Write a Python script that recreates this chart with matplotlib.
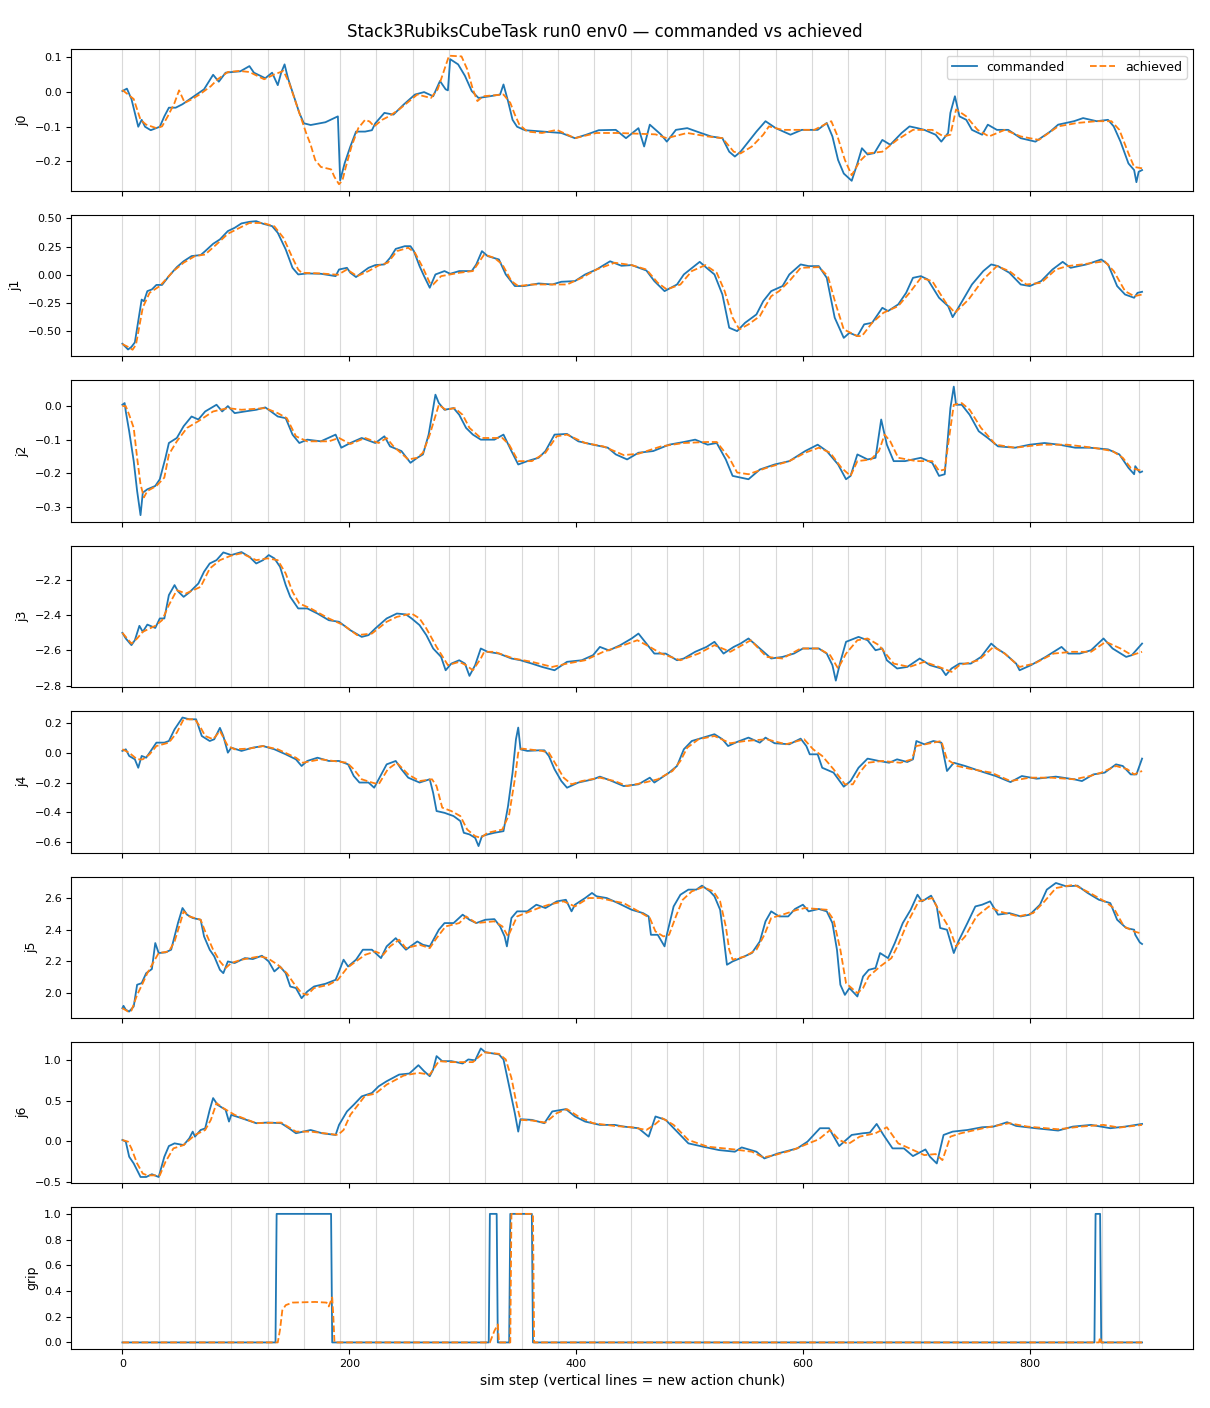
import numpy as np
import matplotlib
matplotlib.use("Agg")
import matplotlib.pyplot as plt

# 读取自图片的关节轨迹 (step, value) 采样点
j0_cmd_step = [0, 4, 8, 11, 14, 17, 20, 25, 33, 37, 41, 47, 53, 64, 72, 80, 85, 91, 97, 104, 112, 116, 126, 132, 137, 140, 143, 146, 151, 156, 160, 166, 179, 190, 192, 196, 201, 206, 214, 220, 223, 231, 239, 248, 258, 266, 274, 280, 285, 287, 289, 296, 302, 308, 314, 324, 333, 336, 340, 344, 348, 355, 371, 387, 399, 409, 420, 435, 444, 455, 460, 465, 475, 480, 488, 498, 510, 519, 529, 535, 540, 545, 552, 559, 567, 576, 589, 599, 613, 621, 626, 631, 636, 643, 648, 652, 657, 663, 670, 677, 687, 694, 701, 707, 717, 722, 728, 730, 734, 738, 744, 749, 758, 763, 771, 781, 792, 805, 818, 825, 839, 847, 859, 869, 874, 880, 887, 892, 894, 896, 899]
j0_cmd_val = [0.003, 0.01, -0.02, -0.06, -0.10, -0.08, -0.10, -0.11, -0.10, -0.07, -0.045, -0.045, -0.035, -0.01, 0.008, 0.05, 0.03, 0.056, 0.058, 0.06, 0.075, 0.056, 0.04, 0.056, 0.02, 0.056, 0.08, 0.04, -0.01, -0.06, -0.09, -0.095, -0.087, -0.07, -0.255, -0.205, -0.157, -0.114, -0.114, -0.11, -0.09, -0.06, -0.065, -0.036, -0.007, 0.0, -0.012, 0.032, 0.008, 0.005, 0.095, 0.08, 0.047, 0.003, -0.017, -0.012, -0.007, 0.022, -0.026, -0.08, -0.10, -0.11, -0.114, -0.118, -0.133, -0.123, -0.11, -0.109, -0.133, -0.104, -0.157, -0.094, -0.123, -0.143, -0.109, -0.104, -0.118, -0.128, -0.133, -0.172, -0.186, -0.172, -0.143, -0.114, -0.084, -0.104, -0.123, -0.109, -0.109, -0.089, -0.128, -0.196, -0.235, -0.256, -0.206, -0.162, -0.18, -0.176, -0.138, -0.152, -0.118, -0.099, -0.104, -0.109, -0.123, -0.143, -0.118, -0.06, -0.012, -0.07, -0.08, -0.109, -0.123, -0.094, -0.109, -0.109, -0.133, -0.143, -0.114, -0.094, -0.084, -0.075, -0.084, -0.08, -0.099, -0.143, -0.206, -0.225, -0.26, -0.23, -0.225]
j0_ach_step = [0, 10, 16, 21, 30, 35, 40, 46, 50, 55, 61, 68, 78, 84, 93, 103, 112, 125, 134, 142, 147, 153, 159, 162, 166, 170, 175, 184, 187, 191, 194, 197, 202, 208, 214, 218, 222, 229, 235, 244, 253, 260, 272, 278, 285, 288, 299, 304, 309, 313, 318, 336, 342, 346, 350, 357, 370, 383, 399, 418, 437, 470, 480, 498, 516, 529, 539, 545, 555, 565, 570, 582, 596, 610, 625, 630, 637, 643, 650, 657, 670, 683, 697, 714, 724, 730, 735, 744, 754, 764, 778, 792, 808, 825, 842, 859, 872, 879, 887, 892, 899]
j0_ach_val = [0.006, -0.02, -0.08, -0.094, -0.104, -0.099, -0.07, -0.031, 0.005, -0.031, -0.021, -0.007, 0.017, 0.037, 0.058, 0.061, 0.058, 0.037, 0.051, 0.061, 0.027, -0.031, -0.089, -0.118, -0.152, -0.196, -0.216, -0.223, -0.245, -0.266, -0.255, -0.216, -0.157, -0.104, -0.08, -0.085, -0.099, -0.08, -0.07, -0.05, -0.026, -0.007, -0.017, 0.008, 0.076, 0.105, 0.103, 0.066, 0.008, -0.026, -0.012, -0.007, -0.031, -0.065, -0.094, -0.114, -0.118, -0.109, -0.133, -0.118, -0.118, -0.122, -0.133, -0.118, -0.128, -0.133, -0.172, -0.177, -0.157, -0.123, -0.099, -0.109, -0.109, -0.109, -0.084, -0.123, -0.196, -0.24, -0.2, -0.177, -0.172, -0.138, -0.109, -0.109, -0.128, -0.123, -0.05, -0.07, -0.109, -0.128, -0.109, -0.128, -0.138, -0.099, -0.089, -0.084, -0.084, -0.109, -0.177, -0.216, -0.22]

j1_cmd_step = [0, 5, 8, 11, 14, 17, 19, 22, 26, 30, 35, 41, 48, 54, 61, 69, 73, 80, 86, 93, 99, 105, 112, 118, 124, 132, 137, 144, 150, 155, 163, 175, 188, 191, 198, 201, 206, 211, 217, 223, 231, 236, 241, 249, 254, 257, 262, 266, 271, 276, 284, 289, 297, 308, 312, 317, 322, 332, 338, 346, 354, 367, 379, 387, 399, 408, 418, 430, 440, 449, 462, 469, 478, 489, 495, 509, 515, 522, 529, 535, 542, 549, 559, 565, 572, 582, 588, 598, 605, 614, 621, 628, 636, 641, 648, 654, 661, 670, 675, 684, 691, 697, 704, 710, 720, 728, 732, 737, 749, 759, 766, 772, 782, 792, 800, 810, 820, 829, 836, 850, 863, 869, 877, 884, 892, 895, 899]
j1_cmd_val = [-0.612, -0.663, -0.64, -0.60, -0.41, -0.22, -0.235, -0.145, -0.13, -0.09, -0.09, -0.012, 0.068, 0.12, 0.166, 0.175, 0.21, 0.275, 0.314, 0.388, 0.417, 0.456, 0.47, 0.476, 0.453, 0.432, 0.373, 0.225, 0.062, 0.003, 0.012, 0.009, -0.012, 0.047, 0.062, 0.018, -0.02, 0.018, 0.062, 0.086, 0.092, 0.15, 0.23, 0.254, 0.254, 0.21, 0.077, -0.012, -0.115, 0.003, 0.033, 0.009, 0.033, 0.033, 0.092, 0.21, 0.166, 0.136, 0.003, -0.10, -0.10, -0.077, -0.086, -0.062, -0.056, 0.003, 0.047, 0.12, 0.08, 0.086, 0.038, -0.056, -0.145, -0.086, 0.003, 0.115, 0.062, 0.003, -0.175, -0.47, -0.50, -0.426, -0.352, -0.234, -0.145, -0.10, 0.003, 0.092, 0.077, 0.077, -0.027, -0.38, -0.56, -0.515, -0.544, -0.44, -0.426, -0.293, -0.322, -0.263, -0.16, -0.027, -0.012, -0.041, -0.204, -0.278, -0.376, -0.293, -0.086, 0.033, 0.092, 0.077, 0.018, -0.086, -0.10, -0.056, 0.047, 0.115, 0.062, 0.092, 0.136, 0.092, -0.10, -0.175, -0.204, -0.16, -0.151]
j1_ach_step = [0, 5, 9, 12, 18, 24, 33, 45, 54, 64, 73, 83, 93, 102, 112, 124, 134, 142, 150, 155, 158, 175, 190, 198, 207, 217, 226, 234, 242, 252, 258, 265, 271, 274, 281, 297, 309, 319, 328, 335, 343, 349, 361, 376, 392, 405, 418, 434, 449, 462, 472, 480, 492, 502, 514, 524, 531, 538, 544, 552, 562, 572, 579, 588, 598, 614, 622, 629, 636, 648, 652, 661, 671, 684, 694, 704, 714, 726, 734, 746, 759, 771, 782, 797, 810, 823, 833, 846, 866, 874, 884, 892, 899]
j1_ach_val = [-0.615, -0.64, -0.665, -0.62, -0.29, -0.16, -0.10, 0.033, 0.107, 0.166, 0.18, 0.27, 0.364, 0.41, 0.46, 0.46, 0.43, 0.328, 0.15, 0.047, 0.018, 0.012, 0.0, 0.047, -0.012, 0.033, 0.083, 0.107, 0.21, 0.24, 0.195, 0.062, -0.071, -0.086, -0.012, 0.018, 0.033, 0.18, 0.15, 0.092, -0.056, -0.10, -0.086, -0.086, -0.086, -0.027, 0.047, 0.107, 0.086, 0.047, -0.071, -0.13, -0.086, 0.033, 0.086, 0.018, -0.145, -0.38, -0.485, -0.44, -0.367, -0.19, -0.145, -0.056, 0.062, 0.068, -0.012, -0.263, -0.485, -0.544, -0.544, -0.426, -0.337, -0.278, -0.16, -0.027, -0.056, -0.248, -0.337, -0.22, -0.041, 0.077, 0.033, -0.086, -0.071, 0.047, 0.077, 0.092, 0.12, 0.033, -0.145, -0.19, -0.175]

j2_cmd_step = [0, 2, 3, 6, 10, 13, 16, 18, 22, 29, 33, 38, 41, 48, 54, 61, 67, 73, 83, 88, 93, 99, 108, 118, 126, 131, 137, 144, 150, 156, 163, 175, 188, 193, 201, 211, 223, 231, 236, 246, 254, 260, 265, 270, 273, 276, 279, 284, 292, 297, 303, 309, 316, 328, 336, 343, 349, 357, 367, 373, 381, 392, 402, 415, 428, 435, 445, 455, 468, 482, 495, 505, 516, 524, 532, 538, 552, 562, 575, 588, 602, 613, 621, 631, 638, 642, 648, 657, 664, 669, 674, 680, 690, 704, 714, 720, 725, 730, 733, 735, 740, 747, 755, 763, 772, 787, 800, 813, 826, 840, 853, 869, 879, 887, 892, 893, 897, 899]
j2_cmd_val = [0.004, 0.009, -0.016, -0.075, -0.164, -0.253, -0.325, -0.258, -0.248, -0.238, -0.218, -0.154, -0.11, -0.095, -0.06, -0.031, -0.04, -0.016, 0.004, -0.016, 0.0, -0.021, -0.016, -0.011, -0.004, -0.016, -0.031, -0.036, -0.085, -0.11, -0.10, -0.105, -0.085, -0.124, -0.11, -0.095, -0.11, -0.09, -0.12, -0.134, -0.169, -0.154, -0.144, -0.085, -0.026, 0.034, 0.009, -0.011, -0.006, -0.026, -0.065, -0.085, -0.10, -0.10, -0.085, -0.134, -0.174, -0.164, -0.154, -0.134, -0.085, -0.083, -0.105, -0.115, -0.124, -0.144, -0.159, -0.139, -0.134, -0.115, -0.107, -0.10, -0.115, -0.11, -0.159, -0.208, -0.218, -0.189, -0.174, -0.164, -0.134, -0.115, -0.134, -0.174, -0.218, -0.208, -0.144, -0.159, -0.154, -0.04, -0.115, -0.164, -0.164, -0.154, -0.169, -0.208, -0.203, -0.006, 0.058, 0.004, 0.004, -0.026, -0.075, -0.095, -0.12, -0.124, -0.115, -0.11, -0.115, -0.124, -0.124, -0.129, -0.144, -0.184, -0.203, -0.179, -0.198, -0.195]
j2_ach_step = [0, 3, 6, 10, 13, 16, 19, 22, 30, 37, 41, 48, 57, 67, 80, 93, 105, 126, 137, 145, 153, 163, 182, 191, 201, 214, 226, 233, 239, 252, 260, 265, 271, 279, 285, 293, 300, 306, 316, 335, 341, 349, 361, 373, 383, 392, 408, 424, 442, 455, 475, 495, 515, 524, 535, 542, 552, 568, 588, 602, 614, 624, 634, 642, 648, 660, 667, 672, 677, 684, 700, 714, 720, 725, 728, 733, 740, 747, 757, 770, 787, 810, 833, 856, 873, 882, 889, 899]
j2_ach_val = [0.0, 0.0, -0.026, -0.065, -0.154, -0.233, -0.272, -0.253, -0.238, -0.213, -0.144, -0.105, -0.065, -0.045, -0.016, -0.006, -0.011, -0.006, -0.021, -0.036, -0.09, -0.105, -0.105, -0.095, -0.113, -0.095, -0.11, -0.095, -0.12, -0.159, -0.154, -0.139, -0.085, 0.004, -0.011, -0.006, -0.026, -0.065, -0.095, -0.095, -0.115, -0.164, -0.164, -0.139, -0.09, -0.085, -0.11, -0.12, -0.146, -0.142, -0.12, -0.11, -0.107, -0.107, -0.154, -0.198, -0.203, -0.184, -0.164, -0.139, -0.124, -0.139, -0.184, -0.208, -0.164, -0.159, -0.134, -0.085, -0.105, -0.154, -0.164, -0.164, -0.193, -0.189, -0.115, 0.004, 0.009, -0.011, -0.065, -0.115, -0.124, -0.115, -0.115, -0.124, -0.134, -0.154, -0.184, -0.193]

j3_cmd_step = [0, 3, 8, 11, 15, 18, 22, 29, 33, 37, 41, 46, 49, 54, 59, 67, 72, 77, 83, 89, 96, 105, 112, 118, 124, 129, 134, 139, 144, 148, 155, 163, 172, 182, 191, 201, 211, 217, 223, 233, 242, 250, 255, 262, 268, 274, 281, 285, 290, 297, 302, 306, 311, 316, 322, 332, 343, 351, 361, 370, 381, 392, 405, 415, 421, 429, 439, 449, 455, 462, 469, 479, 489, 495, 505, 515, 522, 530, 539, 545, 552, 562, 572, 582, 592, 600, 614, 621, 626, 629, 633, 638, 649, 657, 664, 670, 674, 683, 692, 703, 712, 722, 726, 731, 738, 748, 757, 766, 771, 778, 788, 791, 801, 814, 828, 834, 844, 854, 865, 873, 885, 890, 899]
j3_cmd_val = [-2.50, -2.532, -2.57, -2.542, -2.46, -2.494, -2.453, -2.472, -2.418, -2.418, -2.285, -2.228, -2.263, -2.295, -2.27, -2.219, -2.152, -2.105, -2.086, -2.042, -2.057, -2.04, -2.067, -2.105, -2.086, -2.057, -2.076, -2.124, -2.228, -2.295, -2.361, -2.361, -2.39, -2.428, -2.437, -2.485, -2.523, -2.513, -2.475, -2.418, -2.39, -2.395, -2.418, -2.456, -2.513, -2.589, -2.637, -2.713, -2.675, -2.656, -2.675, -2.745, -2.684, -2.589, -2.608, -2.618, -2.646, -2.656, -2.675, -2.694, -2.713, -2.665, -2.656, -2.627, -2.58, -2.60, -2.57, -2.532, -2.504, -2.561, -2.618, -2.618, -2.656, -2.646, -2.608, -2.58, -2.551, -2.618, -2.58, -2.561, -2.532, -2.589, -2.646, -2.637, -2.618, -2.589, -2.589, -2.618, -2.684, -2.772, -2.665, -2.551, -2.523, -2.542, -2.599, -2.589, -2.656, -2.703, -2.694, -2.646, -2.684, -2.703, -2.741, -2.703, -2.675, -2.675, -2.637, -2.561, -2.589, -2.618, -2.675, -2.713, -2.684, -2.637, -2.58, -2.618, -2.618, -2.599, -2.532, -2.589, -2.637, -2.627, -2.561]
j3_ach_step = [0, 8, 13, 18, 29, 35, 41, 48, 56, 69, 77, 86, 96, 105, 118, 128, 137, 144, 150, 156, 166, 182, 195, 207, 220, 233, 242, 255, 262, 268, 277, 287, 297, 303, 309, 316, 319, 328, 345, 361, 379, 392, 408, 424, 442, 454, 465, 475, 492, 508, 522, 536, 554, 568, 582, 598, 614, 624, 631, 638, 648, 657, 667, 680, 694, 707, 720, 731, 738, 755, 768, 778, 791, 804, 821, 837, 854, 867, 880, 890, 899]
j3_ach_val = [-2.50, -2.561, -2.532, -2.494, -2.46, -2.428, -2.342, -2.257, -2.276, -2.238, -2.134, -2.086, -2.06, -2.047, -2.086, -2.076, -2.086, -2.162, -2.266, -2.333, -2.361, -2.418, -2.456, -2.513, -2.504, -2.437, -2.409, -2.39, -2.418, -2.475, -2.58, -2.684, -2.665, -2.684, -2.713, -2.646, -2.608, -2.608, -2.646, -2.665, -2.694, -2.675, -2.656, -2.608, -2.57, -2.542, -2.58, -2.618, -2.656, -2.618, -2.57, -2.608, -2.542, -2.637, -2.646, -2.589, -2.589, -2.627, -2.703, -2.618, -2.542, -2.532, -2.57, -2.675, -2.694, -2.665, -2.694, -2.722, -2.684, -2.656, -2.58, -2.618, -2.694, -2.675, -2.618, -2.608, -2.608, -2.551, -2.589, -2.627, -2.608]

j4_cmd_step = [0, 3, 6, 11, 14, 17, 21, 26, 30, 37, 41, 46, 53, 59, 65, 70, 77, 81, 86, 89, 93, 96, 105, 115, 124, 134, 144, 153, 158, 163, 172, 182, 191, 199, 204, 209, 217, 222, 226, 233, 241, 246, 252, 262, 271, 274, 277, 284, 292, 298, 301, 306, 311, 314, 317, 322, 328, 336, 340, 344, 347, 349, 351, 357, 367, 372, 376, 381, 387, 392, 402, 415, 421, 430, 442, 455, 465, 469, 482, 489, 495, 502, 512, 522, 529, 534, 542, 552, 562, 567, 575, 588, 598, 603, 606, 613, 617, 627, 636, 642, 649, 657, 667, 676, 683, 692, 697, 700, 707, 715, 722, 727, 733, 743, 756, 770, 783, 793, 806, 823, 839, 846, 856, 866, 876, 882, 889, 894, 899]
j4_cmd_val = [0.014, 0.025, -0.02, -0.043, -0.10, -0.02, -0.032, 0.025, 0.07, 0.07, 0.081, 0.16, 0.24, 0.228, 0.228, 0.115, 0.081, 0.093, 0.17, 0.115, 0.002, 0.036, 0.014, 0.036, 0.047, 0.025, -0.009, -0.043, -0.088, -0.054, -0.032, -0.054, -0.054, -0.077, -0.156, -0.20, -0.20, -0.235, -0.178, -0.077, -0.054, -0.11, -0.167, -0.20, -0.178, -0.27, -0.393, -0.405, -0.427, -0.461, -0.54, -0.551, -0.574, -0.63, -0.563, -0.551, -0.54, -0.529, -0.36, -0.133, 0.093, 0.172, 0.025, 0.014, 0.018, 0.018, -0.02, -0.11, -0.19, -0.235, -0.20, -0.178, -0.16, -0.185, -0.224, -0.212, -0.167, -0.20, -0.133, -0.088, 0.025, 0.081, 0.104, 0.127, 0.093, 0.047, 0.075, 0.104, 0.07, 0.104, 0.066, 0.059, 0.097, 0.047, -0.009, -0.009, -0.10, -0.133, -0.228, -0.19, -0.10, -0.038, -0.054, -0.066, -0.043, -0.061, -0.043, 0.081, 0.059, 0.081, 0.07, -0.122, -0.066, -0.088, -0.122, -0.156, -0.197, -0.156, -0.174, -0.16, -0.178, -0.19, -0.145, -0.133, -0.077, -0.088, -0.145, -0.145, -0.038]
j4_ach_step = [0, 6, 13, 18, 24, 30, 41, 48, 54, 64, 69, 73, 80, 86, 93, 99, 112, 124, 137, 153, 159, 175, 198, 204, 211, 220, 226, 234, 242, 252, 262, 273, 277, 282, 290, 298, 304, 311, 316, 322, 335, 341, 346, 349, 352, 370, 376, 383, 389, 396, 405, 421, 434, 445, 462, 472, 485, 492, 498, 508, 522, 536, 549, 568, 585, 601, 609, 617, 627, 637, 644, 650, 657, 670, 686, 696, 700, 708, 722, 727, 736, 749, 766, 783, 800, 819, 839, 853, 863, 876, 886, 892, 899]
j4_ach_val = [0.025, 0.002, -0.043, -0.043, -0.009, 0.047, 0.07, 0.138, 0.228, 0.228, 0.172, 0.115, 0.093, 0.149, 0.047, 0.025, 0.03, 0.047, 0.025, -0.032, -0.066, -0.043, -0.066, -0.11, -0.178, -0.20, -0.212, -0.11, -0.066, -0.145, -0.19, -0.178, -0.224, -0.37, -0.393, -0.427, -0.518, -0.563, -0.574, -0.54, -0.518, -0.416, -0.178, 0.002, 0.03, 0.014, 0.002, -0.088, -0.167, -0.212, -0.19, -0.167, -0.19, -0.224, -0.197, -0.178, -0.122, -0.054, 0.036, 0.093, 0.115, 0.066, 0.081, 0.093, 0.059, 0.093, 0.025, -0.02, -0.11, -0.212, -0.212, -0.133, -0.066, -0.054, -0.066, -0.043, 0.047, 0.059, 0.081, -0.043, -0.088, -0.11, -0.133, -0.19, -0.167, -0.167, -0.178, -0.156, -0.133, -0.088, -0.11, -0.145, -0.122]

j5_cmd_step = [0, 1, 3, 6, 10, 13, 17, 21, 26, 29, 32, 38, 43, 46, 49, 53, 57, 62, 69, 72, 77, 81, 86, 89, 93, 99, 108, 115, 123, 129, 134, 139, 144, 148, 153, 158, 163, 169, 179, 188, 191, 195, 199, 206, 212, 220, 228, 233, 241, 246, 250, 260, 265, 271, 279, 284, 292, 300, 306, 312, 320, 328, 333, 337, 339, 343, 348, 357, 365, 373, 383, 391, 396, 399, 408, 414, 418, 427, 437, 449, 459, 464, 466, 472, 478, 480, 486, 492, 499, 506, 511, 518, 522, 527, 530, 533, 538, 545, 555, 562, 567, 572, 579, 587, 593, 600, 605, 614, 621, 626, 630, 633, 637, 641, 648, 653, 658, 664, 668, 675, 681, 688, 695, 701, 705, 713, 718, 721, 727, 733, 737, 745, 752, 758, 765, 772, 782, 792, 800, 809, 815, 823, 832, 842, 851, 861, 871, 877, 885, 892, 893, 897, 899]
j5_cmd_val = [1.905, 1.92, 1.895, 1.884, 1.916, 2.053, 2.063, 2.126, 2.152, 2.316, 2.253, 2.257, 2.274, 2.358, 2.442, 2.537, 2.495, 2.474, 2.463, 2.358, 2.274, 2.232, 2.147, 2.126, 2.20, 2.19, 2.221, 2.215, 2.236, 2.20, 2.137, 2.168, 2.126, 2.042, 2.032, 1.968, 2.01, 2.042, 2.059, 2.084, 2.137, 2.211, 2.168, 2.211, 2.274, 2.274, 2.221, 2.295, 2.347, 2.305, 2.274, 2.326, 2.305, 2.295, 2.40, 2.442, 2.442, 2.495, 2.463, 2.442, 2.463, 2.467, 2.421, 2.358, 2.295, 2.474, 2.516, 2.516, 2.558, 2.537, 2.579, 2.589, 2.516, 2.558, 2.60, 2.632, 2.611, 2.60, 2.568, 2.526, 2.505, 2.484, 2.368, 2.368, 2.295, 2.368, 2.547, 2.621, 2.653, 2.653, 2.678, 2.642, 2.611, 2.526, 2.358, 2.179, 2.20, 2.221, 2.253, 2.326, 2.453, 2.516, 2.484, 2.484, 2.531, 2.558, 2.516, 2.531, 2.516, 2.442, 2.274, 2.053, 1.989, 2.032, 1.979, 2.105, 2.147, 2.158, 2.253, 2.221, 2.316, 2.442, 2.526, 2.621, 2.579, 2.615, 2.547, 2.411, 2.40, 2.253, 2.326, 2.442, 2.547, 2.558, 2.579, 2.495, 2.505, 2.484, 2.495, 2.558, 2.653, 2.695, 2.674, 2.678, 2.632, 2.589, 2.568, 2.463, 2.411, 2.40, 2.368, 2.32, 2.31]
j5_ach_step = [0, 5, 8, 13, 18, 22, 27, 32, 41, 46, 51, 54, 59, 69, 73, 80, 86, 91, 96, 105, 121, 128, 137, 145, 151, 158, 163, 169, 182, 190, 198, 204, 214, 223, 230, 236, 244, 250, 262, 271, 277, 285, 297, 303, 312, 328, 335, 340, 348, 357, 367, 376, 389, 399, 411, 421, 434, 442, 455, 465, 470, 477, 482, 488, 494, 502, 512, 521, 527, 532, 535, 538, 549, 559, 566, 572, 582, 595, 602, 621, 627, 633, 638, 648, 653, 658, 668, 678, 684, 692, 702, 714, 721, 729, 735, 743, 753, 764, 773, 790, 803, 813, 823, 839, 853, 866, 874, 883, 892, 899]
j5_ach_val = [1.905, 1.884, 1.89, 1.989, 2.063, 2.126, 2.19, 2.253, 2.263, 2.326, 2.442, 2.516, 2.484, 2.463, 2.389, 2.274, 2.20, 2.158, 2.19, 2.211, 2.232, 2.221, 2.179, 2.126, 2.063, 2.00, 1.989, 2.032, 2.053, 2.084, 2.158, 2.19, 2.242, 2.263, 2.242, 2.295, 2.337, 2.284, 2.305, 2.284, 2.347, 2.421, 2.442, 2.484, 2.442, 2.453, 2.421, 2.358, 2.484, 2.509, 2.537, 2.558, 2.579, 2.547, 2.60, 2.60, 2.579, 2.568, 2.516, 2.474, 2.389, 2.358, 2.368, 2.484, 2.589, 2.642, 2.669, 2.642, 2.579, 2.421, 2.274, 2.211, 2.232, 2.274, 2.368, 2.474, 2.495, 2.526, 2.537, 2.526, 2.463, 2.274, 2.063, 2.00, 2.032, 2.105, 2.168, 2.221, 2.305, 2.442, 2.579, 2.60, 2.505, 2.411, 2.295, 2.358, 2.484, 2.547, 2.516, 2.484, 2.505, 2.579, 2.663, 2.684, 2.632, 2.579, 2.537, 2.421, 2.389, 2.375]

j6_cmd_step = [0, 3, 6, 10, 13, 16, 21, 26, 32, 37, 41, 46, 54, 59, 62, 64, 69, 73, 77, 80, 84, 91, 94, 96, 105, 118, 128, 140, 147, 153, 166, 176, 188, 191, 198, 204, 211, 220, 226, 233, 244, 253, 261, 266, 271, 274, 277, 282, 290, 300, 305, 311, 316, 320, 332, 336, 341, 346, 349, 351, 361, 372, 379, 391, 399, 408, 421, 434, 442, 455, 464, 470, 479, 489, 499, 512, 526, 540, 546, 559, 566, 578, 595, 604, 615, 623, 632, 643, 653, 659, 665, 671, 679, 689, 697, 708, 712, 718, 724, 732, 745, 758, 768, 780, 788, 805, 825, 838, 854, 871, 884, 899]
j6_cmd_val = [0.017, -0.004, -0.19, -0.273, -0.356, -0.44, -0.44, -0.406, -0.44, -0.19, -0.058, -0.025, -0.046, 0.037, 0.12, 0.058, 0.14, 0.16, 0.389, 0.534, 0.45, 0.389, 0.244, 0.327, 0.286, 0.224, 0.232, 0.224, 0.16, 0.10, 0.14, 0.10, 0.079, 0.203, 0.369, 0.452, 0.555, 0.597, 0.68, 0.742, 0.824, 0.837, 0.94, 0.866, 0.804, 0.886, 1.052, 0.99, 0.99, 0.961, 1.011, 1.0, 1.147, 1.10, 1.073, 1.011, 0.68, 0.348, 0.12, 0.273, 0.265, 0.224, 0.369, 0.398, 0.307, 0.244, 0.203, 0.203, 0.182, 0.162, 0.058, 0.307, 0.265, 0.12, -0.025, -0.066, -0.108, -0.128, -0.075, -0.128, -0.211, -0.149, -0.087, -0.004, 0.162, 0.162, -0.058, 0.079, 0.10, 0.108, 0.215, 0.079, -0.087, -0.087, -0.182, -0.10, -0.19, -0.273, 0.079, 0.12, 0.14, 0.174, 0.182, 0.236, 0.19, 0.162, 0.133, 0.182, 0.203, 0.162, 0.182, 0.215]
j6_ach_step = [0, 5, 8, 13, 18, 22, 33, 38, 45, 54, 64, 73, 78, 83, 89, 99, 118, 140, 153, 166, 190, 195, 201, 214, 223, 233, 248, 261, 271, 279, 290, 309, 319, 332, 338, 343, 348, 351, 361, 373, 383, 392, 402, 415, 434, 449, 462, 469, 476, 486, 499, 516, 539, 555, 565, 575, 591, 605, 614, 624, 632, 640, 650, 664, 674, 684, 694, 707, 717, 723, 730, 739, 759, 782, 798, 825, 845, 865, 879, 899]
j6_ach_val = [0.017, -0.004, -0.087, -0.273, -0.398, -0.42, -0.42, -0.253, -0.087, -0.046, 0.079, 0.14, 0.265, 0.472, 0.41, 0.327, 0.224, 0.232, 0.12, 0.12, 0.079, 0.14, 0.327, 0.563, 0.588, 0.70, 0.812, 0.845, 0.824, 0.99, 0.978, 0.978, 1.10, 1.08, 1.011, 0.783, 0.431, 0.265, 0.257, 0.232, 0.348, 0.398, 0.307, 0.224, 0.19, 0.174, 0.141, 0.203, 0.286, 0.203, 0.017, -0.066, -0.099, -0.128, -0.199, -0.17, -0.108, -0.025, 0.025, 0.14, 0.017, -0.033, 0.058, 0.10, 0.174, -0.025, -0.087, -0.17, -0.157, -0.232, 0.058, 0.099, 0.162, 0.224, 0.182, 0.149, 0.182, 0.203, 0.17, 0.203]

grip_cmd_step = [0, 135, 136, 184, 185, 323, 324, 330, 331, 341, 342, 361, 362, 857, 858, 862, 863, 899]
grip_cmd_val = [0, 0, 1, 1, 0, 0, 1, 1, 0, 0, 1, 1, 0, 0, 1, 1, 0, 0]
grip_ach_step = [0, 137, 139, 141, 144, 150, 170, 180, 182, 185, 186, 187, 324, 328, 331, 332, 342, 343, 362, 363, 861, 862, 863, 899]
grip_ach_val = [0, 0, 0.1, 0.25, 0.29, 0.31, 0.315, 0.31, 0.28, 0.35, 0.2, 0, 0, 0.09, 0.14, 0, 0, 1, 1, 0, 0, 0.04, 0, 0]

labels = ["j0", "j1", "j2", "j3", "j4", "j5", "j6", "grip"]
cmd = [(j0_cmd_step, j0_cmd_val), (j1_cmd_step, j1_cmd_val), (j2_cmd_step, j2_cmd_val),
       (j3_cmd_step, j3_cmd_val), (j4_cmd_step, j4_cmd_val), (j5_cmd_step, j5_cmd_val),
       (j6_cmd_step, j6_cmd_val), (grip_cmd_step, grip_cmd_val)]
ach = [(j0_ach_step, j0_ach_val), (j1_ach_step, j1_ach_val), (j2_ach_step, j2_ach_val),
       (j3_ach_step, j3_ach_val), (j4_ach_step, j4_ach_val), (j5_ach_step, j5_ach_val),
       (j6_ach_step, j6_ach_val), (grip_ach_step, grip_ach_val)]

chunk = 32
n_steps = 900

fig, axes = plt.subplots(len(labels), 1, figsize=(12.1, 14.08), dpi=100, sharex=True)
fig.subplots_adjust(left=0.059, right=0.986, top=0.965, bottom=0.042, hspace=0.17)

for ax, name, (cx, cy), (ax_x, ax_y) in zip(axes, labels, cmd, ach):
    # 动作块边界
    for b in range(0, n_steps, chunk):
        ax.axvline(b, color="0.85", lw=0.8, zorder=0)
    ax.plot(cx, cy, color="C0", lw=1.3, label="commanded")
    ax.plot(ax_x, ax_y, color="C1", lw=1.3, ls="--", label="achieved")
    ax.set_ylabel(name, fontsize=9)
    ax.tick_params(labelsize=8)

axes[0].legend(loc="upper right", ncol=2, fontsize=9)
axes[-1].set_xlabel("sim step (vertical lines = new action chunk)", fontsize=10)
fig.suptitle("Stack3RubiksCubeTask run0 env0 — commanded vs achieved", fontsize=12, y=0.984)

fig.savefig("out.png", dpi=100)
